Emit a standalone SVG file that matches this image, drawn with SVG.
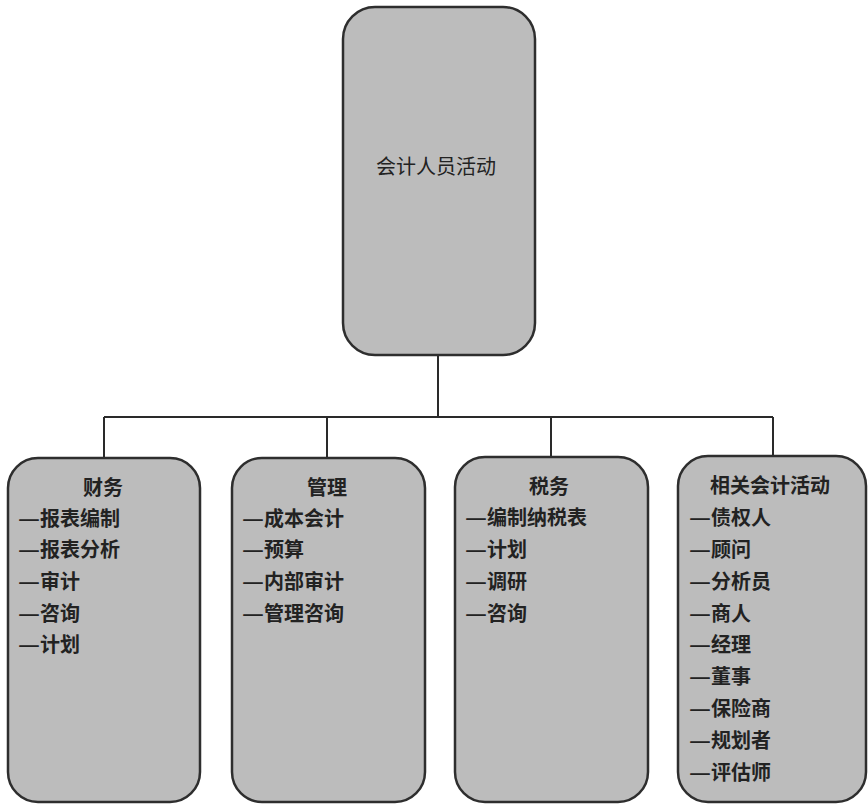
<svg xmlns="http://www.w3.org/2000/svg" width="868" height="804" viewBox="0 0 868 804">
<style>
.box{fill:#bcbcbc;stroke:#2e2e2e;stroke-width:2.5}
.conn{fill:none;stroke:#2a2a2a;stroke-width:2}
text{font-family:"Noto Sans CJK SC","Noto Sans",sans-serif;font-size:20px;fill:#222;dominant-baseline:central}
.t{text-anchor:middle}
.i{font-weight:bold}
</style>
<rect width="868" height="804" fill="#ffffff"/>
<g id="connectors">
<path class="conn" d="M438 355 V417 M104 417 H773 M104 417 V458 M327 417 V458 M551 417 V458 M773 417 V456"/>
</g>
<g id="root">
<rect class="box" x="343" y="7" width="192" height="348" rx="32"/>
<text class="t" x="436" y="165">会计人员活动</text>
</g>
<g id="finance">
<rect class="box" x="8" y="458" width="192" height="344" rx="30"/>
<text class="t i" x="103" y="486">财务</text>
<text class="i" x="18" y="517"><tspan textLength="22" lengthAdjust="spacingAndGlyphs">—</tspan>报表编制</text>
<text class="i" x="18" y="548"><tspan textLength="22" lengthAdjust="spacingAndGlyphs">—</tspan>报表分析</text>
<text class="i" x="18" y="580"><tspan textLength="22" lengthAdjust="spacingAndGlyphs">—</tspan>审计</text>
<text class="i" x="18" y="612"><tspan textLength="22" lengthAdjust="spacingAndGlyphs">—</tspan>咨询</text>
<text class="i" x="18" y="643"><tspan textLength="22" lengthAdjust="spacingAndGlyphs">—</tspan>计划</text>
</g>
<g id="management">
<rect class="box" x="232" y="458" width="193" height="344" rx="30"/>
<text class="t i" x="327" y="486">管理</text>
<text class="i" x="242" y="517"><tspan textLength="22" lengthAdjust="spacingAndGlyphs">—</tspan>成本会计</text>
<text class="i" x="242" y="548"><tspan textLength="22" lengthAdjust="spacingAndGlyphs">—</tspan>预算</text>
<text class="i" x="242" y="580"><tspan textLength="22" lengthAdjust="spacingAndGlyphs">—</tspan>内部审计</text>
<text class="i" x="242" y="612"><tspan textLength="22" lengthAdjust="spacingAndGlyphs">—</tspan>管理咨询</text>
</g>
<g id="tax">
<rect class="box" x="455" y="457" width="193" height="345" rx="30"/>
<text class="t i" x="549" y="485">税务</text>
<text class="i" x="465" y="516"><tspan textLength="22" lengthAdjust="spacingAndGlyphs">—</tspan>编制纳税表</text>
<text class="i" x="465" y="548"><tspan textLength="22" lengthAdjust="spacingAndGlyphs">—</tspan>计划</text>
<text class="i" x="465" y="580"><tspan textLength="22" lengthAdjust="spacingAndGlyphs">—</tspan>调研</text>
<text class="i" x="465" y="612"><tspan textLength="22" lengthAdjust="spacingAndGlyphs">—</tspan>咨询</text>
</g>
<g id="related">
<rect class="box" x="678" y="456" width="188" height="346" rx="30"/>
<text class="t i" x="770" y="484">相关会计活动</text>
<text class="i" x="689" y="516"><tspan textLength="22" lengthAdjust="spacingAndGlyphs">—</tspan>债权人</text>
<text class="i" x="689" y="548"><tspan textLength="22" lengthAdjust="spacingAndGlyphs">—</tspan>顾问</text>
<text class="i" x="689" y="580"><tspan textLength="22" lengthAdjust="spacingAndGlyphs">—</tspan>分析员</text>
<text class="i" x="689" y="612"><tspan textLength="22" lengthAdjust="spacingAndGlyphs">—</tspan>商人</text>
<text class="i" x="689" y="643"><tspan textLength="22" lengthAdjust="spacingAndGlyphs">—</tspan>经理</text>
<text class="i" x="689" y="675"><tspan textLength="22" lengthAdjust="spacingAndGlyphs">—</tspan>董事</text>
<text class="i" x="689" y="707"><tspan textLength="22" lengthAdjust="spacingAndGlyphs">—</tspan>保险商</text>
<text class="i" x="689" y="739"><tspan textLength="22" lengthAdjust="spacingAndGlyphs">—</tspan>规划者</text>
<text class="i" x="689" y="771"><tspan textLength="22" lengthAdjust="spacingAndGlyphs">—</tspan>评估师</text>
</g>
</svg>
